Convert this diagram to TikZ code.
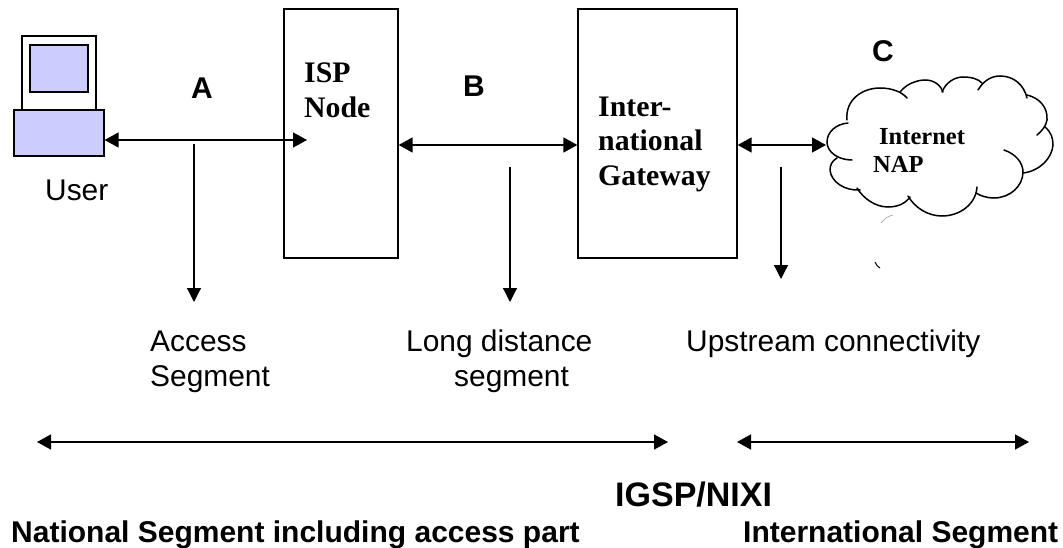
\documentclass[tikz,border=0pt]{standalone}
\usepackage{fontspec}
\setmainfont{Liberation Sans}
\newfontfamily\serifb{Liberation Serif}[Scale=1]
\usetikzlibrary{arrows.meta}
\definecolor{pcfill}{HTML}{CCCCFF}
\tikzset{
  x=1pt,y=-1pt,
  label text/.style={anchor=base west,inner sep=0pt,font=\fontsize{29.9}{32}\selectfont},
  letter text/.style={anchor=base west,inner sep=0pt,font=\fontsize{30}{32}\selectfont\bfseries},
  big text/.style={anchor=base west,inner sep=0pt,font=\fontsize{30}{32}\selectfont\bfseries},
  box text/.style={anchor=base west,inner sep=0pt,font=\fontsize{29.8}{32}\selectfont\serifb\bfseries},
  cloud text/.style={anchor=base west,inner sep=0pt,font=\fontsize{24.5}{28}\selectfont\serifb\bfseries},
  unitbox/.style={draw,line width=1.3pt,inner sep=0pt,minimum width=114pt,minimum height=249pt},
  pcpart/.style={draw,line width=1.2pt,inner sep=0pt},
  twoway/.style={line width=1.5pt,{Triangle[length=14pt,width=15pt]}-{Triangle[length=14pt,width=15pt]}},
  drop/.style={line width=1.2pt,-{Triangle[length=14pt,width=14pt]}},
  lobe/.style={line width=1.5pt,line cap=round},
}
\begin{document}
\begin{tikzpicture}
\useasboundingbox (0,0) rectangle (1063,548);
% computer
\node[pcpart,fill=white,minimum width=74pt,minimum height=74pt] (monitor) at (59,73) {};
\node[pcpart,fill=pcfill,minimum width=58pt,minimum height=47pt] (screen) at (59,68.5) {};
\node[pcpart,fill=pcfill,minimum width=90pt,minimum height=46pt] (base) at (59,133) {};
% boxes
\node[unitbox] (isp) at (341,133.5) {};
\node[unitbox,minimum width=159pt] (gw) at (657.5,133.5) {};
% cloud
\draw[lobe] (847,120) .. controls (845,100) and (862,88) .. (880,88) .. controls (892,88) and (902,92) .. (907,98);
\draw[lobe] (900,92) .. controls (908,82) and (920,80) .. (925,80) .. controls (935,80) and (941,86) .. (943,92);
\draw[lobe] (942,92) .. controls (946,82) and (955,77) .. (963,77) .. controls (972,77) and (978,79) .. (982,83);
\draw[lobe] (978,90) .. controls (984,80) and (992,76) .. (1000,76) .. controls (1014,76) and (1024,85) .. (1027,98);
\draw[lobe] (1027,95) .. controls (1040,98) and (1048,108) .. (1047,120) .. controls (1046,126) and (1042,131) .. (1037,135);
\draw[lobe] (1045,127) .. controls (1051,132) and (1053,138) .. (1053,145) .. controls (1052,158) and (1040,171) .. (1023,173);
\draw[lobe] (1004,150) .. controls (1016,154) and (1023,163) .. (1023,172) .. controls (1023,186) and (1010,198) .. (994,198) .. controls (987,198) and (981,196) .. (976,193);
\draw[lobe] (977,187) .. controls (976,204) and (960,216) .. (942,216) .. controls (928,216) and (915,208) .. (908,196);
\draw[lobe] (910,197) .. controls (905,204) and (897,207) .. (888,207) .. controls (875,207) and (863,198) .. (857,188);
\draw[lobe] (860,190) .. controls (845,191) and (831,182) .. (830,170) .. controls (830,165) and (832,161) .. (837,158);
\draw[lobe] (852,160) .. controls (838,160) and (827,152) .. (827,142) .. controls (827,132) and (836,124) .. (848,123);
\draw[line width=0.3pt,black!60] (881,223) .. controls (884,219) and (888,216) .. (893,215);
\draw[line width=1pt] (875,262) .. controls (876,265) and (878,267) .. (880,268);
% anchors for connectors
\coordinate (aEnd) at (307,140);
\coordinate (aDrop) at (194,144);
\coordinate (aTip) at (194,302);
\coordinate (bDrop) at (510,167);
\coordinate (bTip) at (510,302);
\coordinate (cDrop) at (781,167);
\coordinate (cTip) at (781,279);
\coordinate (cloudW) at (826,145);
\coordinate (rowB) at (0,145);
\coordinate (natL) at (37,442);
\coordinate (natR) at (668,442);
\coordinate (intL) at (737,442);
\coordinate (intR) at (1029,442);
% connectors
\draw[twoway] (base.east |- aEnd) -- (aEnd);
\draw[twoway] (isp.east |- rowB) -- (gw.west |- rowB);
\draw[twoway] (gw.east |- rowB) -- (cloudW);
\draw[drop] (aDrop) -- (aTip);
\draw[drop] (bDrop) -- (bTip);
\draw[drop] (cDrop) -- (cTip);
\draw[twoway] (natL) -- (natR);
\draw[twoway] (intL) -- (intR);
% labels
\node[letter text] (la) at (191,99) {A};
\node[letter text] (lb) at (463,97) {B};
\node[letter text] (lc) at (872,62) {C};
\node[label text] (user) at (45,201) {User};
\node[box text] (isp1) at (304,83) {ISP};
\node[box text] (isp2) at (304,118) {Node};
\node[box text] (gw1) at (598,117) {Inter-};
\node[box text] (gw2) at (598,151) {national};
\node[box text] (gw3) at (598,186) {Gateway};
\node[cloud text] (c1) at (879,145) {Internet};
\node[cloud text] (c2) at (873,173) {NAP};
\node[label text] (t1) at (150,351) {Access};
\node[label text] (t2) at (150,386) {Segment};
\node[label text] (t3) at (406,351) {Long distance};
\node[label text] (t4) at (454,386) {segment};
\node[label text] (t5) at (686,351) {Upstream connectivity};
\node[big text,font=\fontsize{34}{36}\selectfont\bfseries] (t6) at (615,506) {IGSP/NIXI};
\node[big text] (t7) at (11,542) {National Segment including access part};
\node[big text] (t8) at (743,542) {International Segment};
\end{tikzpicture}
\end{document}
